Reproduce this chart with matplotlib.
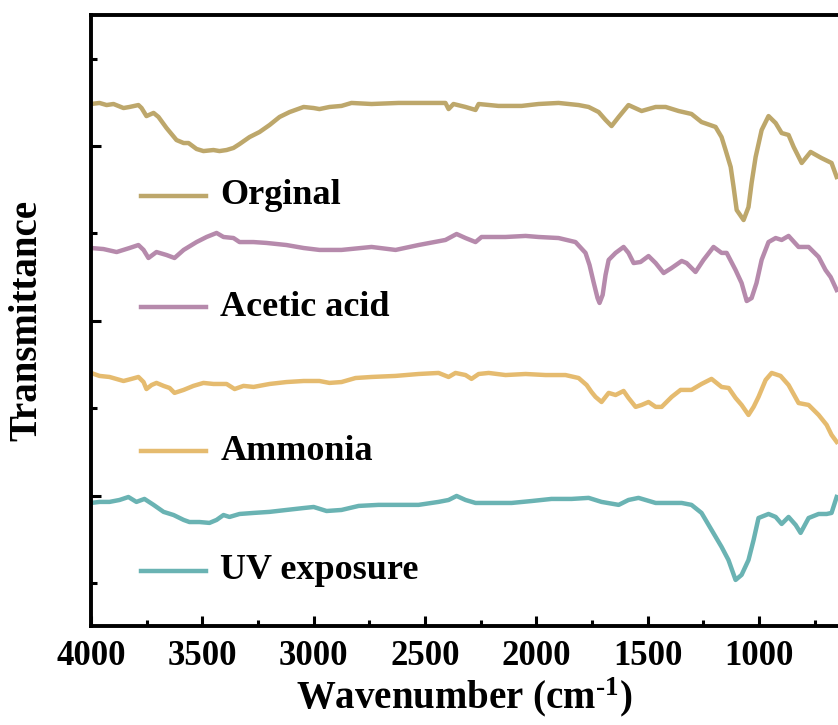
import matplotlib
matplotlib.use("Agg")
import matplotlib.pyplot as plt
from matplotlib.ticker import MultipleLocator
from matplotlib.lines import Line2D

plt.rcParams["font.family"] = ["Liberation Serif", "DejaVu Serif"]
plt.rcParams["font.weight"] = "bold"
plt.rcParams["mathtext.fontset"] = "custom"
plt.rcParams["mathtext.rm"] = "Liberation Serif"
plt.rcParams["mathtext.bf"] = "Liberation Serif:bold"
plt.rcParams["mathtext.default"] = "bf"

# ---- data (offset spectra) ----
labels = ["Orginal", "Acetic acid", "Ammonia", "UV exposure"]
colors = ["#BDA76B", "#B68AAC", "#E5BB6F", "#6AB3B3"]

wn_orig = [4000, 3962, 3930, 3899, 3854, 3827, 3787, 3773, 3751, 3719, 3697, 3661,
           3616, 3584, 3562, 3526, 3495, 3450, 3423, 3391, 3360, 3333, 3288, 3243,
           3198, 3153, 3108, 3045, 3000, 2974, 2929, 2875, 2830, 2740, 2619, 2515,
           2439, 2408, 2394, 2372, 2318, 2273, 2259, 2170, 2066, 1990, 1900, 1810,
           1765, 1720, 1689, 1662, 1630, 1586, 1527, 1464, 1419, 1361, 1303, 1258,
           1195, 1168, 1150, 1127, 1114, 1100, 1069, 1047, 1033, 1015, 988, 957,
           925, 898, 867, 844, 808, 768, 719, 674, 651]
t_orig = [2.240, 2.246, 2.234, 2.240, 2.217, 2.223, 2.234, 2.217, 2.171, 2.189, 2.166, 2.103,
          2.034, 2.017, 2.017, 1.983, 1.971, 1.977, 1.971, 1.977, 1.989, 2.011, 2.051, 2.080,
          2.120, 2.166, 2.194, 2.223, 2.217, 2.211, 2.223, 2.229, 2.246, 2.240, 2.246, 2.246,
          2.246, 2.246, 2.211, 2.240, 2.223, 2.206, 2.240, 2.229, 2.229, 2.240, 2.246, 2.234,
          2.223, 2.194, 2.149, 2.114, 2.166, 2.234, 2.200, 2.223, 2.223, 2.200, 2.183, 2.137,
          2.109, 2.051, 1.977, 1.880, 1.766, 1.634, 1.577, 1.651, 1.789, 1.937, 2.091, 2.171,
          2.131, 2.074, 2.063, 1.994, 1.903, 1.966, 1.931, 1.903, 1.823]

wn_acet = [4000, 3944, 3885, 3827, 3787, 3764, 3742, 3706, 3661, 3625, 3584, 3526,
           3481, 3436, 3405, 3360, 3333, 3270, 3212, 3122, 3045, 2974, 2875, 2740,
           2632, 2529, 2408, 2358, 2318, 2273, 2246, 2138, 2048, 1990, 1900, 1824,
           1779, 1761, 1743, 1725, 1716, 1702, 1689, 1675, 1644, 1608, 1586, 1563,
           1532, 1496, 1464, 1428, 1392, 1347, 1325, 1285, 1249, 1204, 1168, 1145,
           1105, 1078, 1055, 1033, 1011, 988, 957, 925, 898, 867, 822, 777,
           732, 701, 678, 651]
t_acet = [1.417, 1.411, 1.394, 1.417, 1.434, 1.406, 1.360, 1.394, 1.377, 1.360, 1.406, 1.451,
          1.480, 1.503, 1.480, 1.474, 1.451, 1.451, 1.446, 1.434, 1.417, 1.406, 1.406, 1.423,
          1.406, 1.434, 1.463, 1.497, 1.474, 1.451, 1.480, 1.480, 1.486, 1.480, 1.474, 1.451,
          1.389, 1.320, 1.223, 1.131, 1.103, 1.149, 1.263, 1.349, 1.389, 1.423, 1.389, 1.331,
          1.337, 1.371, 1.331, 1.274, 1.303, 1.343, 1.331, 1.280, 1.349, 1.423, 1.389, 1.389,
          1.291, 1.217, 1.114, 1.131, 1.217, 1.349, 1.451, 1.474, 1.463, 1.486, 1.423, 1.423,
          1.366, 1.291, 1.251, 1.177]

wn_ammo = [4000, 3962, 3917, 3854, 3818, 3787, 3764, 3751, 3728, 3706, 3674, 3647,
           3625, 3584, 3540, 3495, 3450, 3391, 3355, 3315, 3270, 3198, 3122, 3045,
           2974, 2929, 2875, 2812, 2740, 2632, 2529, 2439, 2394, 2363, 2318, 2291,
           2259, 2214, 2138, 2048, 1958, 1869, 1810, 1774, 1752, 1734, 1707, 1675,
           1644, 1608, 1586, 1554, 1527, 1496, 1464, 1437, 1392, 1352, 1303, 1258,
           1213, 1168, 1136, 1105, 1078, 1047, 1024, 1002, 970, 943, 903, 867,
           822, 777, 732, 696, 674, 651]
t_ammo = [0.703, 0.686, 0.680, 0.657, 0.669, 0.680, 0.651, 0.611, 0.634, 0.646, 0.629, 0.617,
          0.589, 0.606, 0.629, 0.646, 0.640, 0.640, 0.611, 0.629, 0.623, 0.640, 0.651, 0.657,
          0.657, 0.646, 0.651, 0.674, 0.680, 0.686, 0.697, 0.703, 0.680, 0.703, 0.691, 0.669,
          0.697, 0.703, 0.691, 0.697, 0.691, 0.691, 0.674, 0.634, 0.594, 0.566, 0.537, 0.589,
          0.577, 0.600, 0.560, 0.509, 0.520, 0.537, 0.509, 0.509, 0.566, 0.606, 0.606, 0.640,
          0.669, 0.623, 0.617, 0.560, 0.520, 0.463, 0.509, 0.566, 0.663, 0.703, 0.686, 0.634,
          0.531, 0.520, 0.463, 0.406, 0.349, 0.309]

wn_uv = [4000, 3962, 3917, 3872, 3832, 3796, 3760, 3719, 3674, 3629, 3584, 3558,
         3513, 3468, 3436, 3405, 3378, 3333, 3270, 3198, 3122, 3045, 3000, 2942,
         2875, 2798, 2709, 2619, 2529, 2439, 2394, 2358, 2318, 2273, 2214, 2111,
         2021, 1932, 1842, 1765, 1707, 1630, 1586, 1541, 1464, 1406, 1347, 1303,
         1258, 1213, 1168, 1137, 1105, 1078, 1047, 1024, 1002, 957, 925, 898,
         867, 835, 813, 777, 732, 696, 674, 651]
t_uv = [-0.040, -0.034, -0.034, -0.023, -0.006, -0.034, -0.017, -0.051, -0.091, -0.109, -0.137, -0.149,
        -0.149, -0.154, -0.137, -0.109, -0.120, -0.103, -0.097, -0.091, -0.080, -0.069, -0.063, -0.086,
        -0.080, -0.057, -0.051, -0.051, -0.051, -0.034, -0.023, 0.000, -0.023, -0.040, -0.040, -0.040,
        -0.029, -0.017, -0.017, -0.011, -0.034, -0.051, -0.023, -0.011, -0.040, -0.040, -0.040, -0.051,
        -0.097, -0.194, -0.291, -0.366, -0.480, -0.451, -0.366, -0.251, -0.126, -0.103, -0.120, -0.160,
        -0.120, -0.166, -0.211, -0.126, -0.103, -0.103, -0.097, -0.006]

series = [(wn_orig, t_orig), (wn_acet, t_acet), (wn_ammo, t_ammo), (wn_uv, t_uv)]
label_y = [0.704, 0.522, 0.286, 0.090]  # label rows, axes fraction

fig = plt.figure(figsize=(8.38, 7.25), dpi=100)
ax = fig.add_axes([0.1086, 0.1366, 0.8914, 0.8428])

for (x, y), c in zip(series, colors):
    ax.plot(x, y, color=c, lw=3.2, solid_joinstyle="round")

# hand-placed labels with short line samples
for lab, c, yy in zip(labels, colors, label_y):
    ax.add_line(Line2D([0.067, 0.154], [yy, yy], transform=ax.transAxes,
                       color=c, lw=3.2))
    ax.text(0.173, yy, lab, transform=ax.transAxes, fontsize=26,
            fontweight="bold", va="center", ha="left")

ax.set_xlim(4000, 645)
ax.set_ylim(-0.743, 2.749)
ax.xaxis.set_major_locator(MultipleLocator(500))
ax.xaxis.set_minor_locator(MultipleLocator(250))
ax.yaxis.set_major_locator(MultipleLocator(1))
ax.yaxis.set_minor_locator(MultipleLocator(0.5))

ax.tick_params(which="both", direction="in", width=2.2, top=False, right=False)
ax.tick_params(which="major", length=7.5)
ax.tick_params(which="minor", length=4)
ax.tick_params(axis="x", labelsize=25, pad=10)
ax.tick_params(axis="y", labelleft=False)
for lbl in ax.get_xticklabels():
    lbl.set_fontweight("bold")

for s in ["left", "bottom", "top"]:
    ax.spines[s].set_linewidth(2.8)
ax.spines["right"].set_visible(False)

ax.set_xlabel("Wavenumber (cm$^{\u2010 1}$)", fontsize=28, fontweight="bold", labelpad=2)
ax.set_ylabel("Transmittance", fontsize=28, fontweight="bold")
ax.yaxis.set_label_coords(-0.061, 0.5)

fig.savefig("out.png", dpi=100)
